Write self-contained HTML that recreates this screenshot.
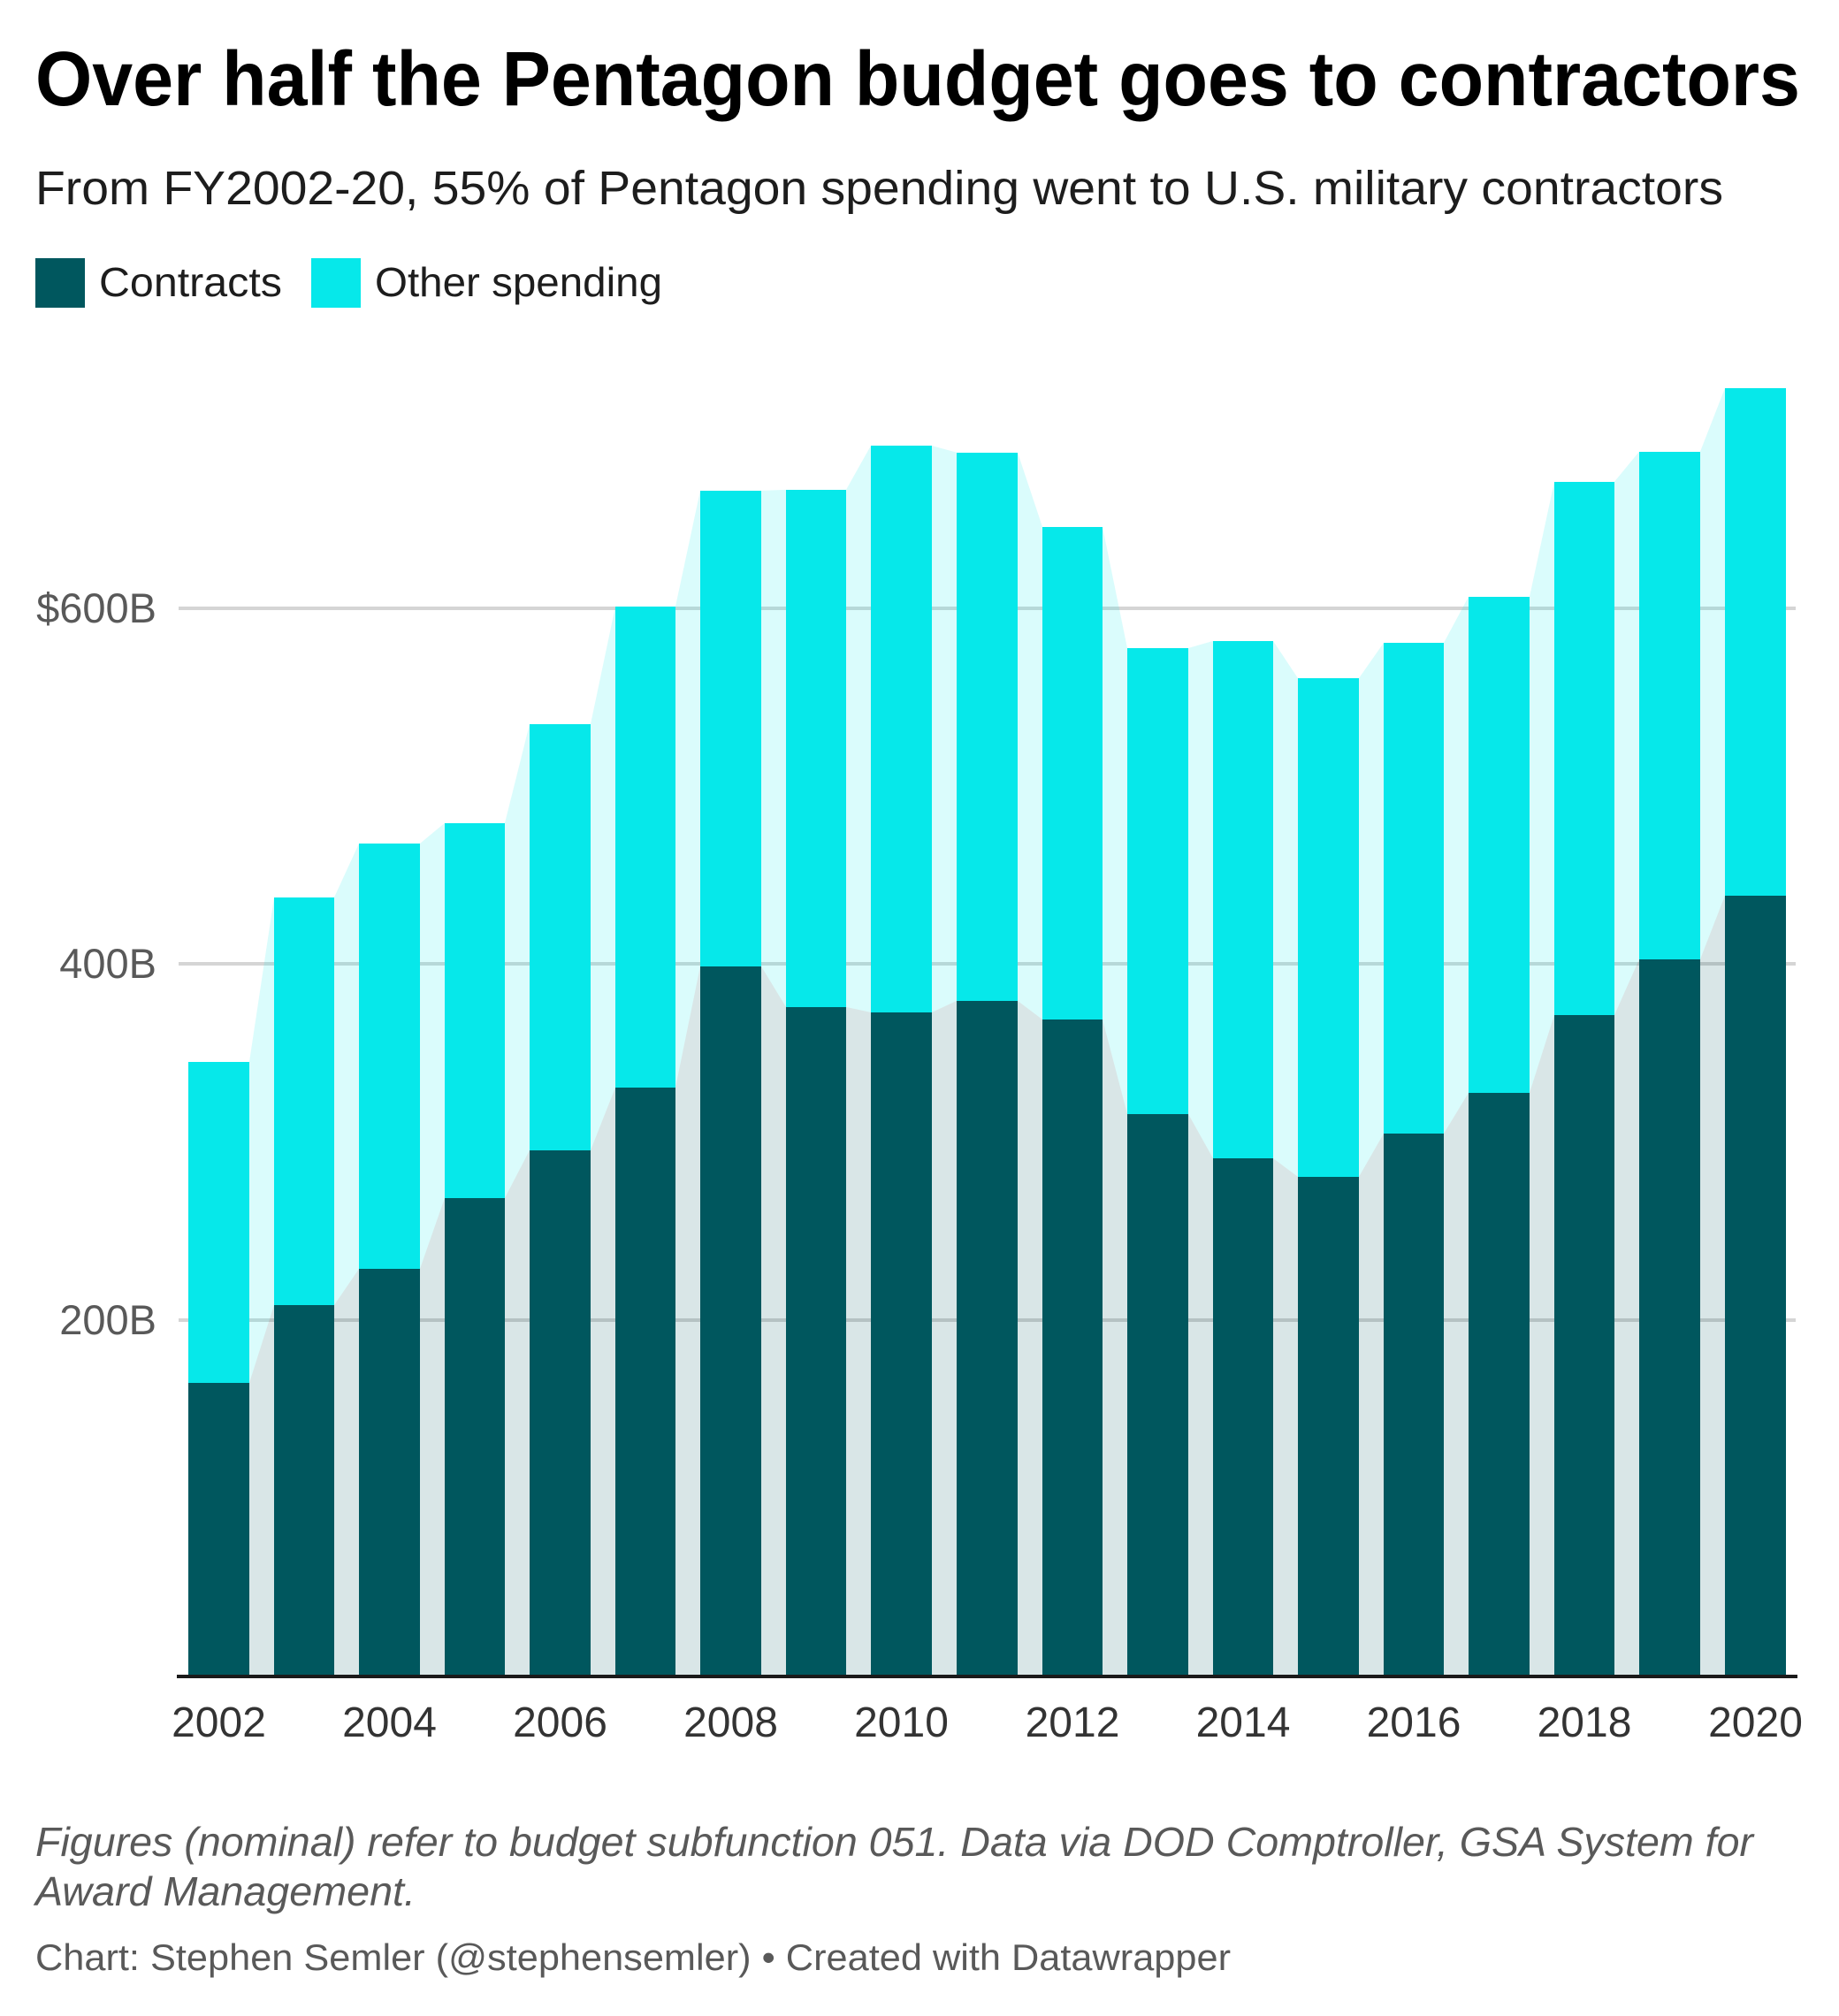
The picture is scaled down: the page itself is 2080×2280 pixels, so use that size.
<!DOCTYPE html>
<html lang="en">
<head>
<meta charset="utf-8">
<title>Over half the Pentagon budget goes to contractors</title>
<style>
  html, body { margin: 0; padding: 0; background: #ffffff; }
  svg { display: block; }
  text { font-family: "Liberation Sans", sans-serif; }
</style>
</head>
<body>
<svg id="chart" xmlns="http://www.w3.org/2000/svg" width="2080" height="2280" viewBox="0 0 2080 2280">
  <rect x="0" y="0" width="2080" height="2280" fill="#ffffff"/>
  <text x="40" y="119" font-size="87" font-weight="700" fill="#000000" textLength="1996" lengthAdjust="spacingAndGlyphs">Over half the Pentagon budget goes to contractors</text>
  <text x="40" y="231" font-size="54" fill="#1d1d1d" textLength="1909" lengthAdjust="spacingAndGlyphs">From FY2002-20, 55% of Pentagon spending went to U.S. military contractors</text>

  <rect x="40" y="292" width="56" height="56" fill="#00575e"/>
  <text x="112" y="335" font-size="46" fill="#1d1d1d" textLength="207" lengthAdjust="spacingAndGlyphs">Contracts</text>
  <rect x="352" y="292" width="56" height="56" fill="#06e8ea"/>
  <text x="424" y="335" font-size="46" fill="#1d1d1d" textLength="325" lengthAdjust="spacingAndGlyphs">Other spending</text>

  <g id="grid"></g>
  <g id="bands"></g>
  <g id="bars"></g>
  <g id="axis"></g>

  <text x="40" y="2099" font-size="46" font-style="italic" fill="#595959" textLength="1943" lengthAdjust="spacingAndGlyphs">Figures (nominal) refer to budget subfunction 051. Data via DOD Comptroller, GSA System for</text>
  <text x="40" y="2155" font-size="46" font-style="italic" fill="#595959" textLength="430" lengthAdjust="spacingAndGlyphs">Award Management.</text>
  <text x="40" y="2228" font-size="42" fill="#595959" textLength="1352" lengthAdjust="spacingAndGlyphs">Chart: Stephen Semler (@stephensemler) • Created with Datawrapper</text>
</svg>
<script>
const years = [2002,2003,2004,2005,2006,2007,2008,2009,2010,2011,2012,2013,2014,2015,2016,2017,2018,2019,2020];
const contracts = [164.7,208.4,228.8,268.6,295.4,330.7,398.8,375.9,372.9,379.4,368.9,315.8,290.9,280.5,304.8,327.7,371.4,402.7,438.5];
const otherSpending = [180.4,229.1,239.0,210.7,239.5,270.3,267.3,290.7,318.5,308.1,276.8,261.8,290.7,280.2,275.8,278.8,299.7,285.3,285.2];
const yTicks = [200,400,600];
const yTickLabels = ['200B','400B','$600B'];
const xTickYears = [2002,2004,2006,2008,2010,2012,2014,2016,2018,2020];

const NS = 'http://www.w3.org/2000/svg';
const COLOR_CONTRACTS = '#00575e';
const COLOR_OTHER = '#06e8ea';

function yScale(v) { return 1895.4 - v * 2.0125; }
function barLeft(i) { return Math.round(213 + i * 96.556); }
function barRight(i) { return Math.round(213 + i * 96.556 + 68.6); }
function make(tag, attrs) {
  const el = document.createElementNS(NS, tag);
  for (const k in attrs) el.setAttribute(k, attrs[k]);
  return el;
}

const gridG = document.getElementById('grid');
const bandsG = document.getElementById('bands');
const barsG = document.getElementById('bars');
const axisG = document.getElementById('axis');

yTicks.forEach(function (t, i) {
  const y = Math.round(yScale(t));
  const line = make('rect', { x: 202, y: y - 2, width: 1829, height: 4, fill: '#d5d5d5' });
  
  
  gridG.appendChild(line);
  const label = make('text', { x: 177, y: y + 16, 'font-size': 47, fill: '#595959', 'text-anchor': 'end' });
  
  
  label.textContent = yTickLabels[i];
  axisG.appendChild(label);
});

for (let i = 0; i < years.length - 1; i++) {
  const xa = barRight(i);
  const xb = barLeft(i + 1);
  const ca = yScale(contracts[i]);
  const cb = yScale(contracts[i + 1]);
  const ta = yScale(contracts[i] + otherSpending[i]);
  const tb = yScale(contracts[i + 1] + otherSpending[i + 1]);
  const base = yScale(0);
  const lower = make('polygon', { points: xa + ',' + ca + ' ' + xb + ',' + cb + ' ' + xb + ',' + base + ' ' + xa + ',' + base, fill: COLOR_CONTRACTS, 'fill-opacity': 0.15 });
  
  
  bandsG.appendChild(lower);
  const upper = make('polygon', { points: xa + ',' + ta + ' ' + xb + ',' + tb + ' ' + xb + ',' + cb + ' ' + xa + ',' + ca, fill: COLOR_OTHER, 'fill-opacity': 0.15 });
  
  
  bandsG.appendChild(upper);
}

years.forEach(function (yr, i) {
  const l = barLeft(i);
  const w = barRight(i) - l;
  const yc = Math.round(yScale(contracts[i]));
  const yt = Math.round(yScale(contracts[i] + otherSpending[i]));
  const base = Math.round(yScale(0));
  const otherBar = make('rect', { x: l, y: yt, width: w, height: yc - yt, fill: COLOR_OTHER, 'shape-rendering': 'crispEdges' });
  
  
  barsG.appendChild(otherBar);
  const contractBar = make('rect', { x: l, y: yc, width: w, height: base - yc, fill: COLOR_CONTRACTS, 'shape-rendering': 'crispEdges' });
  
  
  barsG.appendChild(contractBar);
});

const axisLine = make('rect', { x: 200, y: 1894, width: 1833, height: 4, fill: '#1a1a1a' });


axisG.appendChild(axisLine);

xTickYears.forEach(function (yr) {
  const i = years.indexOf(yr);
  const cx = (barLeft(i) + barRight(i)) / 2;
  const label = make('text', { x: cx, y: 1964, 'font-size': 48, fill: '#333333', 'text-anchor': 'middle' });
  
  
  label.textContent = String(yr);
  axisG.appendChild(label);
});
</script>
</body>
</html>
